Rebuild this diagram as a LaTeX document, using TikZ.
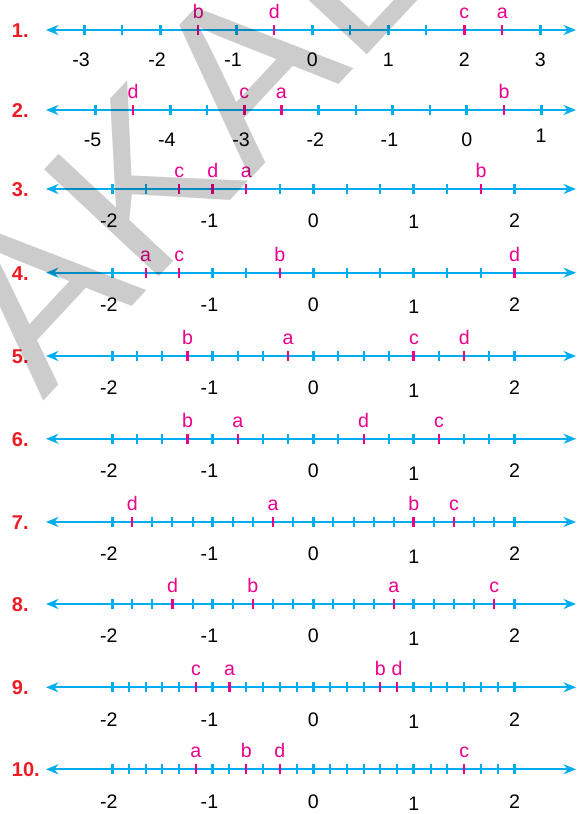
\documentclass[tikz,border=0pt]{standalone}
\usepackage{fontspec}
\setmainfont{Liberation Sans}
\usetikzlibrary{arrows.meta}
\definecolor{lineblue}{HTML}{00AEEF}
\definecolor{markpink}{HTML}{EC008C}
\definecolor{nrred}{HTML}{ED1C24}

\begin{document}
\begin{tikzpicture}[x=.5pt,y=-.5pt,>={Stealth[length=6.2pt,width=5pt,inset=2pt]},
  numline/.style={lineblue,line width=1pt,<->},
  minortick/.style={lineblue,line width=1pt},
  majortick/.style={lineblue,line width=1.55pt},
  marktick/.style={markpink,line width=1.1pt},
  numlab/.style={anchor=base,inner sep=0,font=\fontsize{9.8}{11}\selectfont},
  ptlab/.style={anchor=base,inner sep=0,text=markpink,font=\fontsize{9.8}{11}\selectfont},
  itemnr/.style={anchor=west,inner sep=0,text=nrred,font=\fontsize{10}{12}\selectfont\bfseries},
  wmark/.style={anchor=base west,inner sep=0,rotate=47,text=black,opacity=.2,font=\fontsize{114}{114}\selectfont}]
\path[use as bounding box] (0,0) rectangle (577,814);
% nr / y / x of 0 / unit / from / to / parts / points (label/part) / shift of the 1
\foreach \nr/\ly/\zx/\un/\lo/\hi/\sub/\pts/\dy in {
  1/30/312.3/76/-3/3/2/{b/-3,d/-1,c/4,a/5}/0,
  2/110/466.9/74.2/-5/1/2/{d/-9,c/-6,a/-5,b/1}/-3.5,
  3/189/313.3/100.6/-2/2/3/{c/-4,d/-3,a/-2,b/5}/1,
  4/272.7/313.3/100.6/-2/2/3/{a/-5,c/-4,b/-1,d/6}/2.5,
  5/356/313.3/100.6/-2/2/4/{b/-5,a/-1,c/4,d/6}/2.5,
  6/438.8/313.3/100.6/-2/2/4/{b/-5,a/-3,d/2,c/5}/2.5,
  7/522/313.3/100.6/-2/2/5/{d/-9,a/-2,b/5,c/7}/2.5,
  8/604/313.3/100.6/-2/2/5/{d/-7,b/-3,a/4,c/9}/2.5,
  9/687.3/313.3/100.6/-2/2/6/{c/-7,a/-5,b/4,d/5}/2.5,
  10/769.3/313.3/100.6/-2/2/6/{a/-7,b/-4,d/-2,c/9}/2.5}{
  \node[itemnr] (nr\nr) at (11.5,\ly+.5) {\nr.};
  \coordinate (l\nr) at (46,\ly);
  \coordinate (r\nr) at (576,\ly);
  \draw[numline] (l\nr) -- (r\nr);
  \pgfmathtruncatemacro\kmin{\lo*\sub}
  \pgfmathtruncatemacro\kmax{\hi*\sub}
  \foreach \k in {\kmin,...,\kmax}{
    \pgfmathtruncatemacro\m{mod(abs(\k),\sub)}
    \ifnum\m=0 \draw[majortick] (\zx+\k*\un/\sub,\ly-5) -- ++(0,10);
    \else \draw[minortick] (\zx+\k*\un/\sub,\ly-5) -- ++(0,10); \fi
  }
  \foreach \val in {\lo,...,\hi}{
    \pgfmathtruncatemacro\av{abs(\val)}
    \pgfmathsetmacro\ny{\ly+(\nr<3 ? 36 : 38.7)+(\val==1)*(\dy)}
    \node[numlab] (n\nr-\val) at (\zx+\val*\un,\ny)
      {\ifnum\val<0 \llap{-}\fi\av};
  }
  \foreach \lab/\k in \pts{
    \pgfmathtruncatemacro\m{mod(abs(\k),\sub)}
    \ifnum\m=0 \draw[marktick,line width=1.5pt] (\zx+\k*\un/\sub,\ly-5) -- ++(0,10);
    \else \draw[marktick] (\zx+\k*\un/\sub,\ly-5) -- ++(0,10); \fi
    \node[ptlab] (p\nr\lab) at (\zx+\k*\un/\sub,\ly-11.5) {\lab};
  }
}
\begin{scope}
\clip (0,0) rectangle (577,814);
\node[wmark] (wm) at (43,402) {AKAL};
\end{scope}
\end{tikzpicture}
\end{document}
